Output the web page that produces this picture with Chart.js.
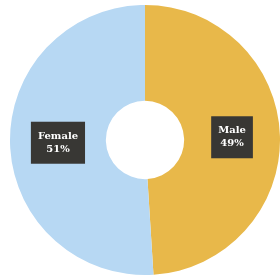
<!DOCTYPE html>
<html>
<head>
<meta charset="utf-8">
<script src="https://cdn.jsdelivr.net/npm/chart.js@4/dist/chart.umd.min.js"></script>
<style>
  html, body { margin: 0; padding: 0; background: #fff; }
  #wrap { width: 280px; height: 278px; }
</style>
</head>
<body>
<div id="wrap"><canvas id="myChart" width="280" height="278"></canvas></div>
<script>
var labels = ["Male", "Female"];
var values = [49, 51];
var colors = ["#e8b84a", "#b7d8f3"];

// dark boxes with the name and percentage in the middle of each slice
var boxLabels = {
  id: "boxLabels",
  afterDatasetsDraw: function (chart) {
    var ctx = chart.ctx;
    var meta = chart.getDatasetMeta(0);
    ctx.save();
    ctx.font = "bold 10px 'DejaVu Serif'";
    ctx.textAlign = "center";
    ctx.textBaseline = "middle";
    meta.data.forEach(function (arc, i) {
      var p = arc.tooltipPosition();
      var lines = [labels[i], values[i] + "%"];
      var w = Math.max(ctx.measureText(lines[0]).width, ctx.measureText(lines[1]).width) + 14;
      var lh = 13;
      var h = lines.length * lh + 16;
      ctx.fillStyle = "#383734";
      ctx.fillRect(p.x - w / 2, p.y - h / 2, w, h);
      ctx.fillStyle = "#ffffff";
      ctx.fillText(lines[0], p.x, p.y - lh / 2);
      ctx.fillText(lines[1], p.x, p.y + lh / 2);
    });
    ctx.restore();
  }
};

var ctx = document.getElementById("myChart").getContext("2d");
var myChart = new Chart(ctx, {
  type: "doughnut",
  data: {
    labels: labels,
    datasets: [{
      data: values,
      backgroundColor: colors,
      borderWidth: 0
    }]
  },
  options: {
    responsive: false,
    animation: false,
    cutout: "29%",
    layout: { padding: { left: 10, right: 0, top: 5, bottom: 3 } },
    plugins: {
      legend: { display: false },
      tooltip: { enabled: false }
    }
  },
  plugins: [boxLabels]
});
</script>
</body>
</html>
